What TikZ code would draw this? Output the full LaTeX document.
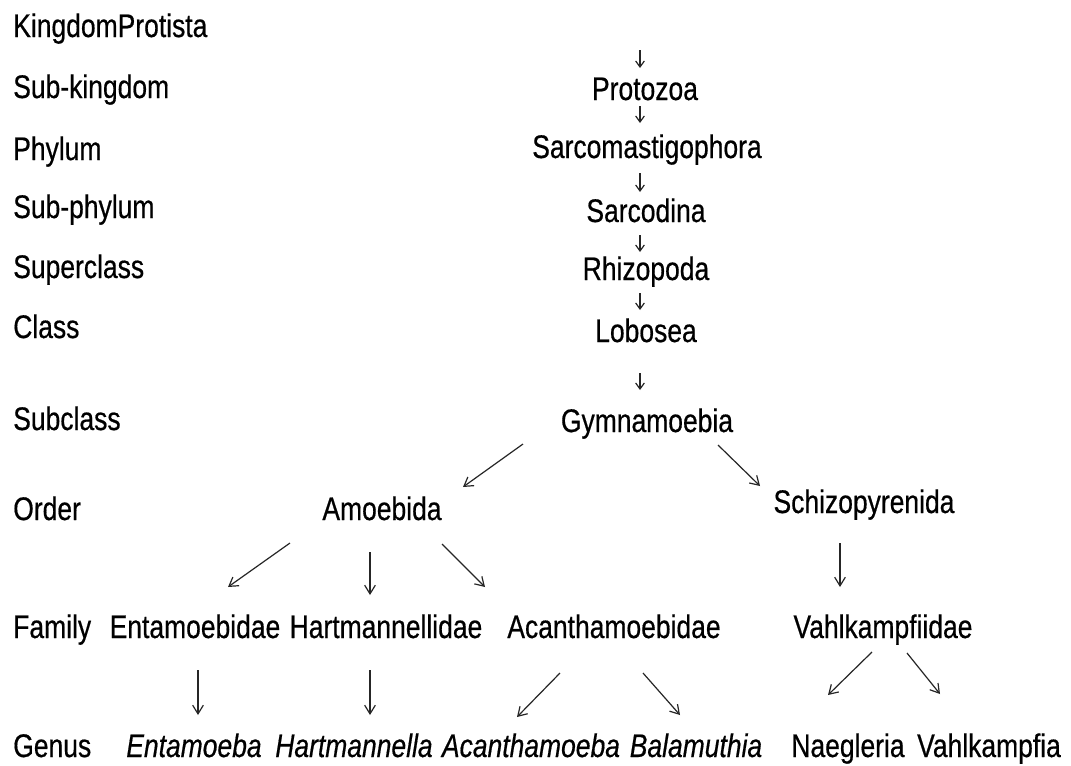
\documentclass[tikz,border=0pt]{standalone}
\usepackage{fontspec}
\setmainfont{Liberation Sans}[FakeStretch=0.81,FakeBold=0.5]
\usetikzlibrary{arrows.meta,calc}
\begin{document}
\begin{tikzpicture}[x=0.75pt,y=-0.75pt,
  lbl/.style={inner sep=0pt,anchor=base west,font=\fontsize{24.5}{28}\selectfont},
  tx/.style={inner sep=0pt,anchor=base,font=\fontsize{24.5}{28}\selectfont},
  itx/.style={tx,font=\fontsize{24.5}{28}\selectfont\itshape},
  arr/.style={line width=0.9pt,black!85,-{Straight Barb[length=6.5pt,width=8pt,line width=0.9pt]}},
  sarr/.style={line width=0.9pt,black!85,-{Straight Barb[length=4.5pt,width=6.5pt,line width=0.9pt]}}]
\useasboundingbox (0,0) rectangle (1071,765);
\fill[white] (0,0) rectangle (1071,765);
% left labels
\node[lbl] (l1) at (13,37) {KingdomProtista};
\node[lbl] (l2) at (13,98) {Sub-kingdom};
\node[lbl] (l3) at (13,160) {Phylum};
\node[lbl] (l4) at (13,218) {Sub-phylum};
\node[lbl] (l5) at (13,278) {Superclass};
\node[lbl] (l6) at (13,338) {Class};
\node[lbl] (l7) at (13,430) {Subclass};
\node[lbl] (l8) at (13,520) {Order};
\node[lbl] (l9) at (13,638) {Family};
\node[lbl] (l10) at (13,757) {Genus};
% centre column
\coordinate (top) at (640,50);
\node[tx] (proto) at (645,100) {Protozoa};
\node[tx] (sarco) at (647,158) {Sarcomastigophora};
\node[tx] (sarcod) at (646,222) {Sarcodina};
\node[tx] (rhizo) at (646,280) {Rhizopoda};
\node[tx] (lobo) at (646,342) {Lobosea};
\node[tx] (gym) at (647,432) {Gymnamoebia};
\node[tx] (amoe) at (382,520) {Amoebida};
\node[tx] (schizo) at (864,513) {Schizopyrenida};
% families
\node[tx] (ent) at (195,638) {Entamoebidae};
\node[tx] (hart) at (386,638) {Hartmannellidae};
\node[tx] (acanth) at (614,638) {Acanthamoebidae};
\node[tx] (vahlf) at (883,638) {Vahlkampfiidae};
% genera
\node[itx] (entam) at (194,757) {Entamoeba};
\node[itx] (hartm) at (354,757) {Hartmannella};
\node[itx] (acm) at (531,757) {Acanthamoeba};
\node[itx] (bala) at (696,757) {Balamuthia};
\node[tx] (naeg) at (848,757) {Naegleria};
\node[tx] (vahlk) at (989,757) {Vahlkampfia};
% small arrows
\draw[sarr] (top) -- ($(proto.base)+(-5,-32)$);
\draw[sarr] ($(proto.base)+(-5,6)$) -- ($(sarco.base)+(-7,-35)$);
\draw[sarr] ($(sarco.base)+(-7,15)$) -- ($(sarcod.base)+(-6,-30)$);
\draw[sarr] ($(sarcod.base)+(-6,13)$) -- ($(rhizo.base)+(-6,-28)$);
\draw[sarr] ($(rhizo.base)+(-6,13)$) -- ($(lobo.base)+(-6,-32)$);
\draw[sarr] ($(lobo.base)+(-6,31)$) -- ($(gym.base)+(-7,-42)$);
% larger arrows
\draw[arr] ($(gym.base)+(-124,12)$) -- ($(amoe.base)+(81,-33)$);
\draw[arr] ($(gym.base)+(71,13)$) -- ($(schizo.base)+(-104,-27)$);
\draw[arr] ($(amoe.base)+(-92,23)$) -- ($(ent.base)+(33,-51)$);
\draw[arr] ($(amoe.base)+(-12,32)$) -- ($(hart.base)+(-16,-43)$);
\draw[arr] ($(amoe.base)+(60,24)$) -- ($(acanth.base)+(-129,-51)$);
\draw[arr] ($(schizo.base)+(-24,30)$) -- ($(vahlf.base)+(-43,-51)$);
\draw[arr] ($(ent.base)+(3,32)$) -- ($(entam.base)+(4,-42)$);
\draw[arr] ($(hart.base)+(-16,32)$) -- ($(hartm.base)+(16,-42)$);
\draw[arr] ($(acanth.base)+(-54,35)$) -- ($(acm.base)+(-14,-40)$);
\draw[arr] ($(acanth.base)+(29,35)$) -- ($(bala.base)+(-16,-42)$);
\draw[arr] ($(vahlf.base)+(-11,14)$) -- ($(naeg.base)+(-20,-62)$);
\draw[arr] ($(vahlf.base)+(24,15)$) -- ($(vahlk.base)+(-49,-63)$);
\end{tikzpicture}
\end{document}
